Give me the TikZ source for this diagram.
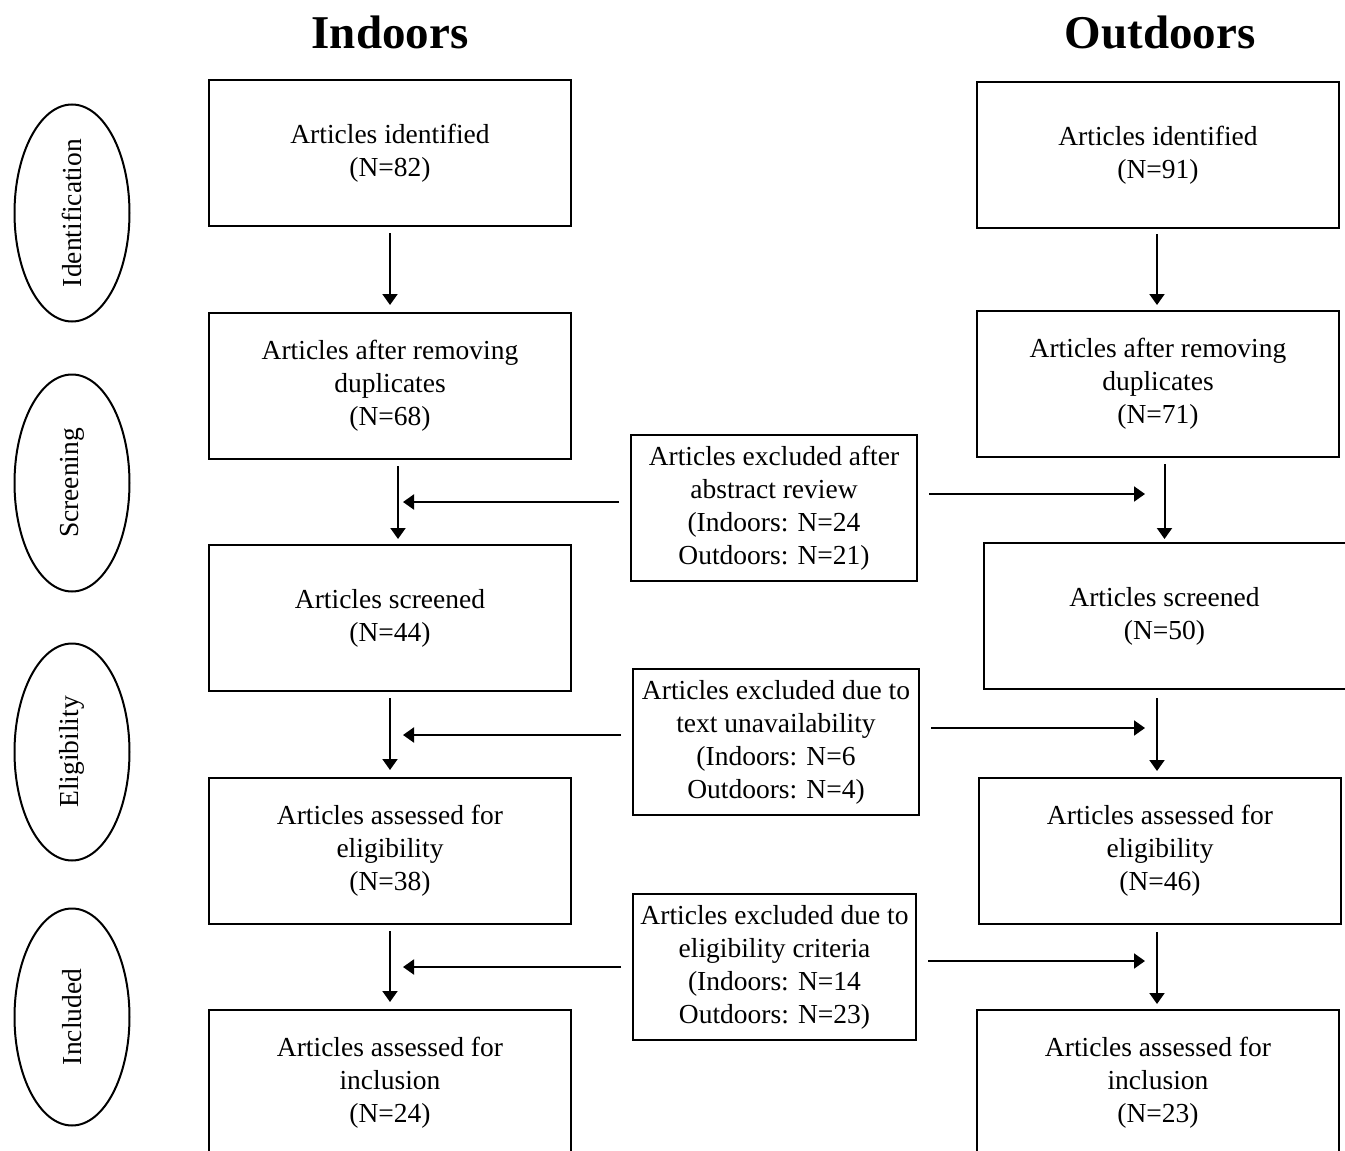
\documentclass[tikz,border=0pt]{standalone}
\usepackage{fontspec}
\setmainfont{Liberation Serif}
\usetikzlibrary{shapes.geometric,arrows.meta,positioning}

\begin{document}
\begin{tikzpicture}[
    x=1pt, y=-1pt,
    node distance=85pt,
    box/.style={rectangle, draw, line width=2pt, minimum width=362pt, minimum height=146pt, inner sep=0pt, align=center, font=\fontsize{27.5}{33}\selectfont},
    excl/.style={box, minimum width=286pt},
    stage/.style={ellipse, draw, line width=2pt, minimum width=217pt, minimum height=115pt, inner sep=0pt, rotate=90, font=\fontsize{27.5}{33}\selectfont},
    title/.style={font=\fontsize{47}{56}\selectfont\bfseries},
    arrow/.style={-{Triangle[length=11pt,width=15pt]}, line width=2pt}
]
\clip (0,0) rectangle (1345,1151);

% Titles
\node[title] (tin) at (390,32) {Indoors};
\node[title] (tout) at (1160,32) {Outdoors};

% Stages
\node[stage] (sid) at (72,213) {Identification};
\node[stage] (ssc) at (72,483) {Screening};
\node[stage] (sel) at (72,752) {Eligibility};
\node[stage] (sin) at (72,1017) {Included};

% Indoors
\node[box] (in1) at (390,153) {Articles identified\\(N=82)};
\node[box, below=of in1] (in2) {Articles after removing\\duplicates\\(N=68)};
\node[box, below=84pt of in2] (in3) {Articles screened\\(N=44)};
\node[box, below=of in3] (in4) {Articles assessed for\\eligibility\\(N=38)};
\node[box, below=84pt of in4] (in5) {Articles assessed for\\inclusion\\(N=24)};

% Outdoors
\node[box] (out1) at (1158,155) {Articles identified\\(N=91)};
\node[box, below=81pt of out1] (out2) {Articles after removing\\duplicates\\(N=71)};
\node[box, below=84pt of out2, xshift=6.5pt] (out3) {Articles screened\\(N=50)};
\node[box, below=87pt of out3, xshift=-4.5pt] (out4) {Articles assessed for\\eligibility\\(N=46)};
\node[box, below=84pt of out4, xshift=-2pt] (out5) {Articles assessed for\\inclusion\\(N=23)};

% Exclusions
\node[excl] (exA) at (774,508) {Articles excluded after\\abstract review\\(Indoors: N=24\\Outdoors: N=21)};
\node[excl] (exB) at (776,742) {Articles excluded due to\\text unavailability\\(Indoors: N=6\\Outdoors: N=4)};
\node[excl, minimum width=283pt] (exC) at (774.5,967) {Articles excluded due to\\eligibility criteria\\(Indoors: N=14\\Outdoors: N=23)};

% Arrows
\foreach \source/\dest in {in1/in2, in3/in4, in4/in5} {
    \draw[arrow, shorten <=6pt, shorten >=7pt] (\source) -- (\dest);
}
\draw[arrow, shorten <=6pt, shorten >=5pt] ([xshift=8pt]in2.south) -- ([xshift=8pt]in3.north);
\draw[arrow, shorten <=5pt, shorten >=5pt] ([xshift=-1pt]out1.south) -- ([xshift=-1pt]out2.north);
\draw[arrow, shorten <=6pt, shorten >=3pt] (out2.south -| out3.north) -- (out3.north);
\draw[arrow, shorten <=8pt, shorten >=6pt] ([xshift=-3pt]out4.north |- out3.south) -- ([xshift=-3pt]out4.north);
\draw[arrow, shorten <=7pt, shorten >=5pt] ([xshift=-3pt]out4.south) -- ([xshift=-3pt]out4.south |- out5.north);

\coordinate (jA1) at (403,502);
\coordinate (jA2) at (1145,494);
\coordinate (jB1) at (403,735);
\coordinate (jB2) at (1145,728);
\coordinate (jC1) at (403,967);
\coordinate (jC2) at (1145,961);
\foreach \ex/\j in {exA/jA, exB/jB, exC/jC} {
    \draw[arrow, shorten <=11pt] (\ex.west |- \j1) -- (\j1);
    \draw[arrow, shorten <=11pt] (\ex.east |- \j2) -- (\j2);
}

\end{tikzpicture}
\end{document}
